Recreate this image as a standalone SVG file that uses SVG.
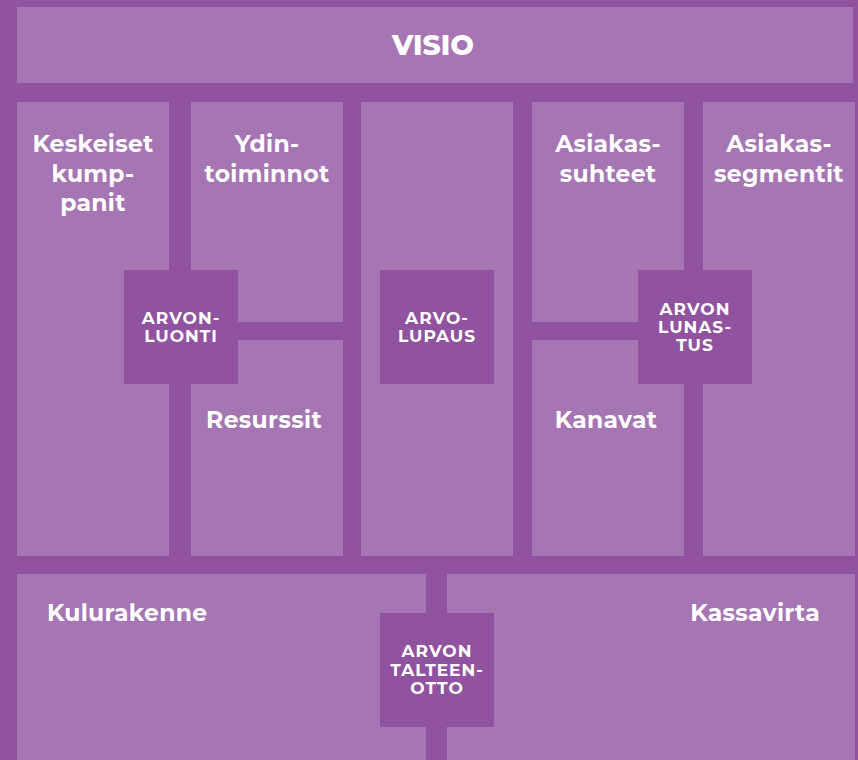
<svg xmlns="http://www.w3.org/2000/svg" width="858" height="760" viewBox="0 0 858 760">
<style>
.bg{fill:#91529f}
.box{fill:#a676b4}
.hub{fill:#91529f}
.t{font-family:"Montserrat","Open Sans","Liberation Sans",sans-serif;font-weight:700;fill:#ffffff;text-anchor:middle}
.big{font-size:23.5px;letter-spacing:0.3px}
.sm{font-size:17px;letter-spacing:1px}
.title{font-size:28px;font-weight:800}
</style>
<rect class="bg" x="0" y="0" width="858" height="760"/>
<g id="visio">
<rect class="box" x="17" y="7" width="836" height="76"/>
<text class="t title" x="433" y="55">VISIO</text>
</g>
<g id="keskeiset-kumppanit">
<rect class="box" x="17" y="102" width="152" height="454"/>
<text class="t big" x="93" y="152">Keskeiset</text>
<text class="t big" x="93" y="182">kump-</text>
<text class="t big" x="93" y="211">panit</text>
</g>
<g id="ydintoiminnot">
<rect class="box" x="191" y="102" width="152" height="220"/>
<text class="t big" x="267" y="152">Ydin-</text>
<text class="t big" x="267" y="182">toiminnot</text>
</g>
<g id="resurssit">
<rect class="box" x="191" y="340" width="152" height="216"/>
<text class="t big" x="264" y="428">Resurssit</text>
</g>
<g id="arvolupaus-col">
<rect class="box" x="361" y="102" width="152" height="454"/>
</g>
<g id="asiakassuhteet">
<rect class="box" x="532" y="102" width="152" height="220"/>
<text class="t big" x="608" y="152">Asiakas-</text>
<text class="t big" x="608" y="182">suhteet</text>
</g>
<g id="kanavat">
<rect class="box" x="532" y="340" width="152" height="216"/>
<text class="t big" x="606" y="428">Kanavat</text>
</g>
<g id="asiakassegmentit">
<rect class="box" x="703" y="102" width="152" height="454"/>
<text class="t big" x="779" y="152">Asiakas-</text>
<text class="t big" x="779" y="182">segmentit</text>
</g>
<g id="kulurakenne">
<rect class="box" x="17" y="574" width="409" height="186"/>
<text class="t big" x="47" y="621" style="text-anchor:start">Kulurakenne</text>
</g>
<g id="kassavirta">
<rect class="box" x="447" y="574" width="408" height="186"/>
<text class="t big" x="820" y="621" style="text-anchor:end">Kassavirta</text>
</g>
<g id="connectors">
<rect class="hub" x="169" y="102" width="22" height="454"/>
<rect class="hub" x="191" y="322" width="152" height="18"/>
<rect class="hub" x="684" y="102" width="19" height="454"/>
<rect class="hub" x="532" y="322" width="152" height="18"/>
<rect class="hub" x="426" y="556" width="21" height="204"/>
</g>
<g id="arvonluonti">
<rect class="hub" x="124" y="270" width="114" height="114"/>
<text class="t sm" x="181" y="324">ARVON-</text>
<text class="t sm" x="181" y="342">LUONTI</text>
</g>
<g id="arvolupaus">
<rect class="hub" x="380" y="270" width="114" height="114"/>
<text class="t sm" x="437" y="324">ARVO-</text>
<text class="t sm" x="437" y="342">LUPAUS</text>
</g>
<g id="arvonlunastus">
<rect class="hub" x="638" y="270" width="114" height="114"/>
<text class="t sm" x="695" y="315">ARVON</text>
<text class="t sm" x="695" y="333">LUNAS-</text>
<text class="t sm" x="695" y="351">TUS</text>
</g>
<g id="arvontalteenotto">
<rect class="hub" x="380" y="613" width="114" height="114"/>
<text class="t sm" x="437" y="657">ARVON</text>
<text class="t sm" x="437" y="676">TALTEEN-</text>
<text class="t sm" x="437" y="694">OTTO</text>
</g>
</svg>
